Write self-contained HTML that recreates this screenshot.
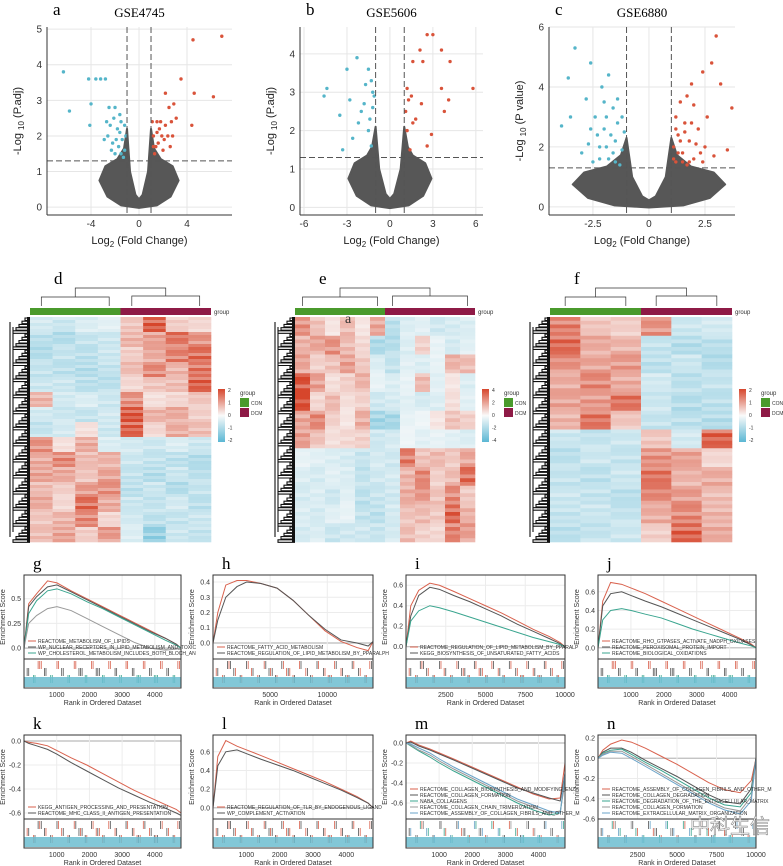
<!DOCTYPE html>
<html><head><meta charset="utf-8"><style>
body{margin:0;background:#fff}
svg{display:block;font-family:"Liberation Sans",sans-serif}
.lt{font-family:"Liberation Serif",serif;font-size:17px}
</style></head><body>
<svg id="fig" width="783" height="866" viewBox="0 0 783 866"></svg>
<script>
// ---- Volcano data ----
const volAx=[-4,0,4], volAy=[0,1,2,3,4,5];
const volBx=[-6,-3,0,3,6], volBy=[0,1,2,3,4];
const volCx=[-2.5,0,2.5], volCy=[0,2,4,6];
const volABlue=[[-6.3,3.8],[-5.8,2.7],[-4.2,3.6],[-3.6,3.6],[-3.2,3.6],[-2.8,3.6],[-4,2.9],[-4.1,2.3],[-2.5,2.8],[-2,2.8],[-1.6,2.6],[-2.6,2.0],[-2.2,1.8],[-1.8,2.2],[-1.4,1.9],[-1.2,1.6],[-2.0,1.5],[-1.5,2.4],[-2.4,2.3],[-1.1,2.0],[-1.7,1.7],[-2.9,1.9],[-1.3,1.4],[-2.3,1.6],[-1.9,1.9],[-1.2,2.3],[-2.7,2.4],[-1.5,1.5],[-2.1,2.5],[-1.6,2.1]];
const volARed=[[6.9,4.8],[4.5,4.7],[3.5,3.6],[6.2,3.1],[4.6,3.2],[2.2,3.2],[2.5,2.8],[2.9,2.9],[1.8,2.4],[2.2,2.3],[1.5,2.1],[1.2,2.0],[1.6,1.8],[2.8,2.0],[2.0,1.6],[1.3,1.5],[4.4,2.3],[1.1,2.4],[2.6,1.7],[1.4,1.7],[3.1,2.5],[1.9,2.0],[1.7,2.2],[2.4,2.0],[1.2,1.7],[2.1,1.9],[1.5,2.4],[2.7,2.4]];
const volBBlue=[[-4.6,2.9],[-4.4,3.1],[-3.5,2.4],[-3,3.6],[-2.3,3.9],[-1.5,3.6],[-1.3,3.3],[-2.8,2.8],[-1.8,2.7],[-1.2,2.6],[-2.2,2.2],[-1.5,2.0],[-1.1,2.9],[-1.7,3.2],[-2.6,1.8],[-1.3,1.6],[-3.3,1.5],[-2,2.5],[-1.4,2.3],[-1.2,3.0]];
const volBRed=[[2.6,4.5],[3,4.5],[2.1,4.1],[3.6,4.1],[4.2,3.8],[2.3,3.8],[1.6,3.8],[1.2,3.1],[5.8,3.1],[3.6,3.1],[4.1,2.8],[3.8,2.5],[1.5,2.9],[2.2,2.7],[1.8,2.3],[2.6,1.6],[1.2,2.0],[1.4,1.5],[2.9,1.9],[1.1,2.5],[1.3,2.8],[1.6,2.2]];
const volCBlue=[[-3.3,5.3],[-3.6,4.3],[-3.9,2.7],[-3.5,3.0],[-2.6,4.8],[-2.1,4.0],[-1.8,4.4],[-2.8,3.6],[-2.4,3.0],[-1.6,3.3],[-2.0,2.6],[-1.4,2.8],[-2.7,2.1],[-2.2,2.0],[-1.5,2.2],[-1.2,1.9],[-1.8,1.6],[-2.5,1.5],[-1.3,1.4],[-3.0,1.8],[-1.9,3.0],[-1.1,2.5],[-2.3,2.4],[-1.6,1.8],[-2.0,3.5],[-1.4,3.6],[-2.6,2.6],[-1.7,2.4],[-1.2,3.0],[-2.2,1.6],[-1.5,1.5],[-1.9,2.0]];
const volCRed=[[3.0,5.7],[2.8,4.8],[2.4,4.5],[3.2,4.1],[1.9,4.1],[1.7,3.7],[2.0,3.4],[1.4,3.5],[3.7,3.3],[2.6,3.0],[1.2,3.0],[1.6,2.8],[2.2,2.6],[1.3,2.4],[1.8,2.2],[2.5,2.0],[1.1,2.0],[1.5,1.8],[2.0,1.6],[1.2,1.5],[1.7,1.4],[2.9,1.7],[3.5,1.9],[1.4,2.2],[2.3,1.8],[1.1,1.6],[1.5,1.5],[1.8,1.5],[2.1,2.1],[1.3,1.8],[1.6,2.5],[2.4,1.5],[1.2,2.6],[1.9,2.8]];
// ---- Heatmap data (rows x columns, z-scores) ----
const heatD=[[-0.5,-0.6,-0.4,-0.3,0.6,1.8,0.5,0.4],[-0.8,-0.9,-0.7,-0.6,0.8,1.0,1.5,1.2],[-0.9,-0.7,-0.8,-0.6,0.5,0.9,1.4,1.6],[-0.7,-0.8,-0.9,-0.7,0.7,1.3,0.8,1.5],[-0.6,-0.6,-0.8,-0.8,0.4,0.6,0.7,1.7],[0.8,-0.5,-0.4,-0.6,1.2,0.3,0.4,0.6],[-0.5,-0.6,-0.7,-0.5,1.9,0.8,0.9,0.5],[-0.7,-0.5,0.3,-0.6,1.7,0.4,0.9,0.7],[1.2,0.3,0.9,-0.4,-0.5,-0.6,-0.4,-0.6],[0.9,1.3,0.7,0.8,-0.6,-0.7,-0.8,-0.9],[1.0,0.9,0.6,1.0,-0.7,-0.9,-0.6,-0.8],[0.7,0.5,1.1,1.2,-0.8,-0.6,-0.9,-0.7],[0.9,0.4,1.6,0.9,-0.6,-0.7,-0.5,-0.8],[0.6,0.8,1.3,0.4,-0.5,-0.8,-0.7,-0.6],[0.7,1.0,0.5,1.1,-0.4,-1.3,-0.6,-0.7]];
const heatE=[[1.5,0.8,0.3,0.9,0.3,1.2,-1,-0.5,-0.4,-0.7,-0.6,-0.5],[1.0,1.2,1.5,0.9,0.5,-1.2,-1.1,-0.5,0.6,-0.3,-0.6,-0.4],[1.2,0.6,0.8,1.3,0.7,-0.5,-0.9,-0.4,-0.5,-0.3,1.0,0.9],[2.4,1.3,0.4,0.6,1.0,-0.3,-0.5,-0.3,0.9,-0.4,0.3,-0.5],[2.8,0.5,0.9,0.4,0.6,-0.7,-0.6,-0.4,-0.6,-0.5,0.4,-0.4],[1.2,1.6,0.6,0.3,1.1,-1.4,-1.3,-0.3,-0.2,0.3,0.8,0.6],[1.3,0.8,0.4,0.5,0.6,-0.7,-0.6,-0.2,-0.4,-0.3,-0.4,-0.5],[-0.3,-0.4,-0.5,-0.6,-0.8,-0.6,-0.7,1.8,0.8,0.9,0.7,1.2],[-0.5,-0.6,-0.4,-0.5,-0.9,-0.7,-0.6,1.0,1.6,0.6,0.9,2.0],[-0.6,-0.5,-0.7,-0.4,-1.0,-0.8,-0.7,1.1,1.4,0.8,1.6,0.7],[-0.5,-0.6,-0.4,-0.3,-0.9,-1.0,-0.6,0.8,0.9,0.7,2.1,1.0],[-0.6,-0.5,-0.8,-0.7,-0.7,-0.8,-0.6,0.9,0.6,0.5,1.7,1.3]];
const heatF=[[1.4,0.6,0.5,1.2,-0.6,-0.5],[1.6,0.9,0.8,-0.7,-0.9,-0.8],[1.2,1.0,1.1,-0.8,-0.6,-0.9],[0.9,1.3,0.9,-0.5,-0.8,-0.7],[1.0,1.1,1.5,-0.6,-0.9,-0.8],[0.8,1.5,0.6,-0.7,-0.8,-0.9],[-0.6,-0.7,-0.6,0.6,-0.5,1.7],[-0.8,-0.6,-0.7,1.2,1.0,0.4],[-0.7,-0.8,-0.6,1.5,0.8,0.9],[-0.6,-0.7,-0.8,1.3,1.1,0.7],[-0.7,-0.6,-0.7,0.9,1.3,0.8],[-0.8,-0.7,-0.6,0.5,1.7,0.9]];
// ---- GSEA data ----
const gseaRanks=[0,0.03,0.08,0.15,0.21,0.3,0.4,0.5,0.6,0.7,0.8,0.9,0.97,1];
const gseaG=[[0,0.45,0.55,0.68,0.66,0.58,0.5,0.42,0.34,0.26,0.18,0.1,0.04,0],[0,0.42,0.52,0.62,0.64,0.57,0.49,0.41,0.33,0.25,0.17,0.1,0.04,0],[0,0.35,0.48,0.58,0.6,0.55,0.47,0.4,0.32,0.24,0.16,0.08,0.03,0],[0,0.25,0.33,0.4,0.42,0.38,0.3,0.22,0.14,0.06,0,-0.02,-0.01,0]];
const gseaH=[[0,0.2,0.38,0.41,0.41,0.39,0.36,0.28,0.18,0.08,0.01,-0.03,-0.05,0.01],[0,0.15,0.3,0.37,0.4,0.39,0.36,0.28,0.18,0.09,0.02,0.0,-0.02,0.01]];
const gseaI=[[0,0.4,0.55,0.62,0.6,0.54,0.47,0.4,0.33,0.25,0.17,0.1,0.04,0],[0,0.3,0.5,0.58,0.56,0.5,0.44,0.37,0.3,0.22,0.15,0.08,0.03,0],[0,0.25,0.35,0.4,0.38,0.34,0.29,0.24,0.19,0.14,0.09,0.05,0.02,0]];
const gseaJ=[[0,0.5,0.7,0.68,0.64,0.58,0.5,0.42,0.34,0.26,0.18,0.1,0.04,0],[0,0.45,0.58,0.6,0.56,0.5,0.44,0.37,0.3,0.23,0.16,0.09,0.03,0],[0,0.3,0.4,0.42,0.4,0.36,0.32,0.26,0.2,0.15,0.1,0.05,0.02,0]];
const gseaK=[[0,-0.01,-0.02,-0.04,-0.08,-0.14,-0.2,-0.27,-0.34,-0.41,-0.47,-0.53,-0.57,-0.6],[0,-0.02,-0.04,-0.07,-0.11,-0.18,-0.25,-0.32,-0.39,-0.45,-0.51,-0.56,-0.6,-0.62]];
const gseaL=[[0,0.55,0.72,0.66,0.62,0.56,0.49,0.42,0.35,0.28,0.2,0.12,0.05,0],[0,0.45,0.6,0.62,0.58,0.52,0.46,0.4,0.33,0.26,0.19,0.11,0.05,0]];
const gseaM=[[0,0.02,-0.02,-0.06,-0.1,-0.16,-0.23,-0.3,-0.37,-0.44,-0.51,-0.56,-0.55,-0.2],[0,0.01,-0.03,-0.07,-0.11,-0.17,-0.24,-0.31,-0.38,-0.45,-0.5,-0.55,-0.58,-0.3],[0,-0.03,-0.08,-0.14,-0.2,-0.28,-0.36,-0.44,-0.52,-0.6,-0.67,-0.72,-0.7,-0.35],[0,-0.02,-0.07,-0.12,-0.18,-0.26,-0.34,-0.42,-0.5,-0.58,-0.64,-0.7,-0.68,-0.4],[0,-0.01,-0.05,-0.1,-0.16,-0.24,-0.32,-0.4,-0.48,-0.56,-0.62,-0.68,-0.7,-0.3]];
const gseaN=[[0,0.08,0.14,0.18,0.16,0.1,0.02,-0.06,-0.15,-0.24,-0.31,-0.34,-0.22,0],[0,0.06,0.1,0.1,0.06,-0.02,-0.1,-0.18,-0.27,-0.36,-0.43,-0.45,-0.3,0],[0,0.05,0.08,0.09,0.04,-0.04,-0.12,-0.21,-0.3,-0.39,-0.46,-0.48,-0.34,0],[0,0.04,0.07,0.07,0.02,-0.06,-0.15,-0.24,-0.33,-0.42,-0.49,-0.52,-0.38,0],[0,0.03,0.06,0.05,0.0,-0.08,-0.17,-0.26,-0.35,-0.44,-0.51,-0.55,-0.42,0]];

const NS="http://www.w3.org/2000/svg", svg=document.getElementById('fig');
function el(t,a,p){const e=document.createElementNS(NS,t);for(const k in a)e.setAttribute(k,a[k]);(p||svg).appendChild(e);return e;}
function txt(x,y,s,a,p){const e=el('text',Object.assign({x:x,y:y},a),p);e.textContent=s;return e;}
function letter(x,y,s){const t=txt(x,y,s,{class:'lt'});

}

// ---- Volcano ----
function volcano(id,X0,X1,xd,yd,xt,yt,blue,red,title,lab,ylab,ythr,sp,armTop){
 const g=el('g',{});
 
 
 const Y0=27,Y1=215;
 const sx=v=>X0+(v-xd[0])/(xd[1]-xd[0])*(X1-X0), sy=v=>Y1-(v-yd[0])/(yd[1]-yd[0])*(Y1-Y0);
 el('rect',{x:X0,y:Y0,width:X1-X0,height:Y1-Y0,fill:'#fff'},g);
 xt.forEach(v=>el('line',{x1:sx(v),x2:sx(v),y1:Y0,y2:Y1,stroke:'#e6e6e6'},g));
 yt.forEach(v=>el('line',{x1:X0,x2:X1,y1:sy(v),y2:sy(v),stroke:'#e6e6e6'},g));
 // gray non-significant cloud (outline of dense region)
 const cloud=[[0,-0.02],[-sp*0.45,0.05],[-sp*0.8,0.3],[-sp,0.75],[-sp*0.85,1.15],[-sp*0.55,1.35],[-1.25,armTop*0.75],[-1.0,armTop],[-0.75,1.0],[-0.3,0.35],[0,0.22],[0.3,0.35],[0.75,1.0],[1.0,armTop],[1.25,armTop*0.75],[sp*0.55,1.35],[sp*0.85,1.15],[sp,0.75],[sp*0.8,0.3],[sp*0.45,0.05]];
 el('path',{d:'M'+cloud.map(p=>sx(p[0])+','+sy(p[1])).join('L')+'Z',fill:'#575757',stroke:'#575757','stroke-width':2,'stroke-linejoin':'round'},g);
 blue.forEach(p=>{const c=el('circle',{cx:sx(p[0]),cy:sy(p[1]),r:1.7,fill:'#55b5c9'},g);
  
  });
 red.forEach(p=>{const c=el('circle',{cx:sx(p[0]),cy:sy(p[1]),r:1.7,fill:'#d9533a'},g);
  
  });
 [-1,1].forEach(v=>el('line',{x1:sx(v),x2:sx(v),y1:Y0,y2:Y1,stroke:'#555','stroke-dasharray':'6,3'},g));
 el('line',{x1:X0,x2:X1,y1:sy(ythr),y2:sy(ythr),stroke:'#555','stroke-dasharray':'6,3'},g);
 el('line',{x1:X0,x2:X0,y1:Y0,y2:Y1,stroke:'#333'},g);el('line',{x1:X0,x2:X1,y1:Y1,y2:Y1,stroke:'#333'},g);
 xt.forEach(v=>txt(sx(v),227,String(v),{'font-size':10,'text-anchor':'middle',fill:'#333'},g));
 yt.forEach(v=>txt(X0-5,sy(v)+3.5,String(v),{'font-size':10,'text-anchor':'end',fill:'#333'},g));
 const xl=txt((X0+X1)/2,244,'Log',{'font-size':11,'text-anchor':'middle',fill:'#222'},g);
 xl.innerHTML='Log<tspan font-size="8" dy="3">2</tspan><tspan dy="-3"> (Fold Change)</tspan>';
 const yl=txt(0,0,'',{'font-size':11,'text-anchor':'middle',fill:'#222',transform:`translate(${X0-26},${(Y0+Y1)/2}) rotate(-90)`},g);
 yl.innerHTML='-Log <tspan font-size="8" dy="3">10</tspan><tspan dy="-3"> ('+ylab+')</tspan>';
 txt((X0+X1)/2,17,title,{'font-family':'Liberation Serif,serif','font-size':13,'text-anchor':'middle'},g);
 letter(X0+6,15,lab);
}
volcano('a',47,232,[-7.67,7.75],[-0.22,5.06],volAx,volAy,volABlue,volARed,'GSE4745','a','P.adj',1.3,3.3,2.2);
volcano('b',300,483,[-6.28,6.5],[-0.2,4.7],volBx,volBy,volBBlue,volBRed,'GSE5606','b','P.adj',1.3,2.9,2.1);
volcano('c',549,735,[-4.46,3.84],[-0.27,6.0],volCx,volCy,volCBlue,volCRed,'GSE6880','c','P value',1.3,3.4,2.3);

// ---- Heatmaps ----
function col(v,m){const t=Math.max(-1,Math.min(1,v/m));
 const w=[250,250,250],r=[214,70,44],b=[91,183,212],c=t>0?r:b,a=Math.abs(t);
 return 'rgb('+w.map((x,i)=>Math.round(x+(c[i]-x)*a)).join(',')+')';}
function heat(id,X0,X1,data,lab,mx,ticks){
 const g=el('g',{});
 
 
 const Y0=317,Y1=542,nc=data[0].length,nr=data.length,cw=(X1-X0)/nc;
 const sub=5, rh=(Y1-Y0)/(nr*sub);
 data.forEach((row,i)=>row.forEach((v,j)=>{for(let s=0;s<sub;s++){const f=[1,0.7,1.15,0.85,1.05][(s+j+i)%5];
  el('rect',{x:X0+j*cw,y:Y0+(i*sub+s)*rh,width:cw+0.3,height:rh+0.3,fill:col(v*f,mx)},g);}}));
 const mid=(X0+X1)/2;
 const ga=el('rect',{x:X0,y:308,width:mid-X0,height:7,fill:'#4a9a2c'},g);
 
 const gb=el('rect',{x:mid,y:308,width:X1-mid,height:7,fill:'#8e1a46'},g);
 
 txt(X1+3,314,'group',{'font-size':6,fill:'#333'},g);
 el('path',{d:`M${X0+cw/2},306V297H${mid-cw/2}V306M${mid+cw/2},306V296H${X1-cw/2}V306M${(X0+mid)/2},297V288H${(mid+X1)/2}V296`,fill:'none',stroke:'#333','stroke-width':0.7},g);
 let d='';for(let k=0;k<70;k++){const y=Y0+k*(Y1-Y0)/70+1;d+=`M${X0},${y}H${X0-5-(k%5)*3}V${y+2.5}H${X0}`;}
 d+=`M${X0-20},${Y0+5}V${Y1-5}M${X0-17},${Y0+10}V${Y1-10}`;
 el('path',{d:d,fill:'none',stroke:'#111','stroke-width':1.1},g);
 el('rect',{x:X0-3,y:Y0,width:3,height:Y1-Y0,fill:'#111'},g);
 const lx=X1+7;const grad=el('rect',{x:lx,y:389,width:7,height:53,fill:'url(#hg)'},g);
 
 ticks.forEach((t,i)=>txt(lx+10,392+i*12.5,t,{'font-size':5,fill:'#333'},g));
 txt(lx+22,395,'group',{'font-size':6,fill:'#333'},g);
 el('rect',{x:lx+22,y:398,width:9,height:9,fill:'#4a9a2c'},g);el('rect',{x:lx+22,y:408,width:9,height:9,fill:'#8e1a46'},g);
 txt(lx+33,405,'CON',{'font-size':5,fill:'#333'},g);txt(lx+33,415,'DCM',{'font-size':5,fill:'#333'},g);
 letter(X0+24,284,lab);
}
const defs=el('defs',{});const lg=el('linearGradient',{id:'hg',x1:0,y1:0,x2:0,y2:1},defs);
el('stop',{offset:0,'stop-color':'#d6462c'},lg);el('stop',{offset:0.5,'stop-color':'#fafafa'},lg);el('stop',{offset:1,'stop-color':'#5bb7d4'},lg);
heat('d',30,211,heatD,'d',2,['2','1','0','-1','-2']);
heat('e',295,475,heatE,'e',2.5,['4','2','0','-2','-4']);
heat('f',550,732,heatF,'f',2,['2','1','0','-1','-2']);
txt(345,323,'a',{'font-family':'Liberation Serif,serif','font-size':14,fill:'#333'});

// ---- GSEA ----
const palette=['#d9624e','#555','#3aa58f','#999','#6aa3c8'];
function gsea(id,X0,X1,top,yd,yt,xmax,xt,curves,names,lab){
 const g=el('g',{});
 
 
 const esB=top+84,bot=top+113;
 const sx=r=>X0+r*(X1-X0), sy=v=>esB-(v-yd[0])/(yd[1]-yd[0])*(esB-top);
 el('rect',{x:X0,y:top,width:X1-X0,height:bot-top,fill:'#fff'},g);
 yt.forEach(v=>{el('line',{x1:X0,x2:X1,y1:sy(v),y2:sy(v),stroke:v===0?'#bbb':'#ececec','stroke-width':v===0?1.2:1},g);
  txt(X0-3,sy(v)+2.5,v.toFixed(2).replace(/0$/,'').replace(/(\.\d)$/,'$1'),{'font-size':7,'text-anchor':'end',fill:'#333'},g);});
 xt.forEach(v=>{el('line',{x1:sx(v/xmax),x2:sx(v/xmax),y1:top,y2:esB,stroke:'#ececec'},g);
  txt(sx(v/xmax),bot+9,String(v),{'font-size':7,'text-anchor':'middle',fill:'#333'},g);});
 curves.forEach((c,k)=>{const p=el('path',{d:'M'+c.map((v,i)=>sx(gseaRanks[i])+','+sy(v)).join('L'),fill:'none',stroke:palette[k],'stroke-width':1},g);
  });
 names.forEach((n,k)=>{const y=esB-4-(names.length-1-k)*6;el('line',{x1:X0+4,x2:X0+12,y1:y-2,y2:y-2,stroke:palette[k]},g);
  txt(X0+14,y,n,{'font-size':5,fill:'#333'},g);});
 for(let k=0;k<60;k++){const x=sx(((k*37)%100)/100);el('line',{x1:x,x2:x,y1:esB+2+(k%3)*7,y2:esB+10+(k%3)*7,stroke:palette[k%names.length],'stroke-width':0.8},g);}
 el('rect',{x:X0,y:bot-11,width:X1-X0,height:10,fill:'#6cbdd0',opacity:0.85},g);
 el('rect',{x:X0,y:top,width:X1-X0,height:bot-top,fill:'none',stroke:'#333'},g);
 el('line',{x1:X0,x2:X1,y1:esB,y2:esB,stroke:'#333'},g);
 txt((X0+X1)/2,bot+17,'Rank in Ordered Dataset',{'font-size':7,'text-anchor':'middle',fill:'#333'},g);
 txt(0,0,'Enrichment Score',{'font-size':7,'text-anchor':'middle',fill:'#333',transform:`translate(${X0-19},${(top+esB)/2}) rotate(-90)`},g);
 letter(X0+9,top-6,lab);
}
const T1=575,T2=735;
gsea('g',24,181,T1,[-0.11,0.74],[0,0.25,0.5],4800,[1000,2000,3000,4000],gseaG,['REACTOME_METABOLISM_OF_LIPIDS','WP_NUCLEAR_RECEPTORS_IN_LIPID_METABOLISM_AND_TOXIC','WP_CHOLESTEROL_METABOLISM_INCLUDES_BOTH_BLOCH_AN'],'g');
gsea('h',213,373,T1,[-0.105,0.446],[0,0.1,0.2,0.3,0.4],14000,[5000,10000],gseaH,['REACTOME_FATTY_ACID_METABOLISM','REACTOME_REGULATION_OF_LIPID_METABOLISM_BY_PPARALPH'],'h');
gsea('i',406,565,T1,[-0.12,0.7],[0,0.2,0.4,0.6],10000,[2500,5000,7500,10000],gseaI,['REACTOME_REGULATION_OF_LIPID_METABOLISM_BY_PPARALP','KEGG_BIOSYNTHESIS_OF_UNSATURATED_FATTY_ACIDS'],'i');
gsea('j',598,756,T1,[-0.12,0.78],[0,0.2,0.4,0.6],4800,[1000,2000,3000,4000],gseaJ,['REACTOME_RHO_GTPASES_ACTIVATE_NADPH_OXIDASES','REACTOME_PEROXISOMAL_PROTEIN_IMPORT','REACTOME_BIOLOGICAL_OXIDATIONS'],'j');
gsea('k',24,181,T2,[-0.65,0.05],[0,-0.2,-0.4,-0.6],4800,[1000,2000,3000,4000],gseaK,['KEGG_ANTIGEN_PROCESSING_AND_PRESENTATION','REACTOME_MHC_CLASS_II_ANTIGEN_PRESENTATION'],'k');
gsea('l',213,373,T2,[-0.12,0.78],[0,0.2,0.4,0.6],4800,[1000,2000,3000,4000],gseaL,['REACTOME_REGULATION_OF_TLR_BY_ENDOGENOUS_LIGAND','WP_COMPLEMENT_ACTIVATION'],'l');
gsea('m',406,565,T2,[-0.76,0.08],[0,-0.2,-0.4,-0.6],4800,[1000,2000,3000,4000],gseaM,['REACTOME_COLLAGEN_BIOSYNTHESIS_AND_MODIFYING_ENZY','REACTOME_COLLAGEN_FORMATION','NABA_COLLAGENS','REACTOME_COLLAGEN_CHAIN_TRIMERIZATION','REACTOME_ASSEMBLY_OF_COLLAGEN_FIBRILS_AND_OTHER_M'],'m');
gsea('n',598,756,T2,[-0.6,0.23],[0.2,0,-0.2,-0.4,-0.6],10000,[2500,5000,7500,10000],gseaN,['REACTOME_ASSEMBLY_OF_COLLAGEN_FIBRILS_AND_OTHER_M','REACTOME_COLLAGEN_DEGRADATION','REACTOME_DEGRADATION_OF_THE_EXTRACELLULAR_MATRIX','REACTOME_COLLAGEN_FORMATION','REACTOME_EXTRACELLULAR_MATRIX_ORGANIZATION'],'n');
const wm=txt(690,833,'中科生信',{'font-family':'Liberation Sans,"Noto Sans CJK SC",sans-serif','font-size':20,fill:'#fff',stroke:'#888','stroke-width':0.6});

</script>
</body></html>
